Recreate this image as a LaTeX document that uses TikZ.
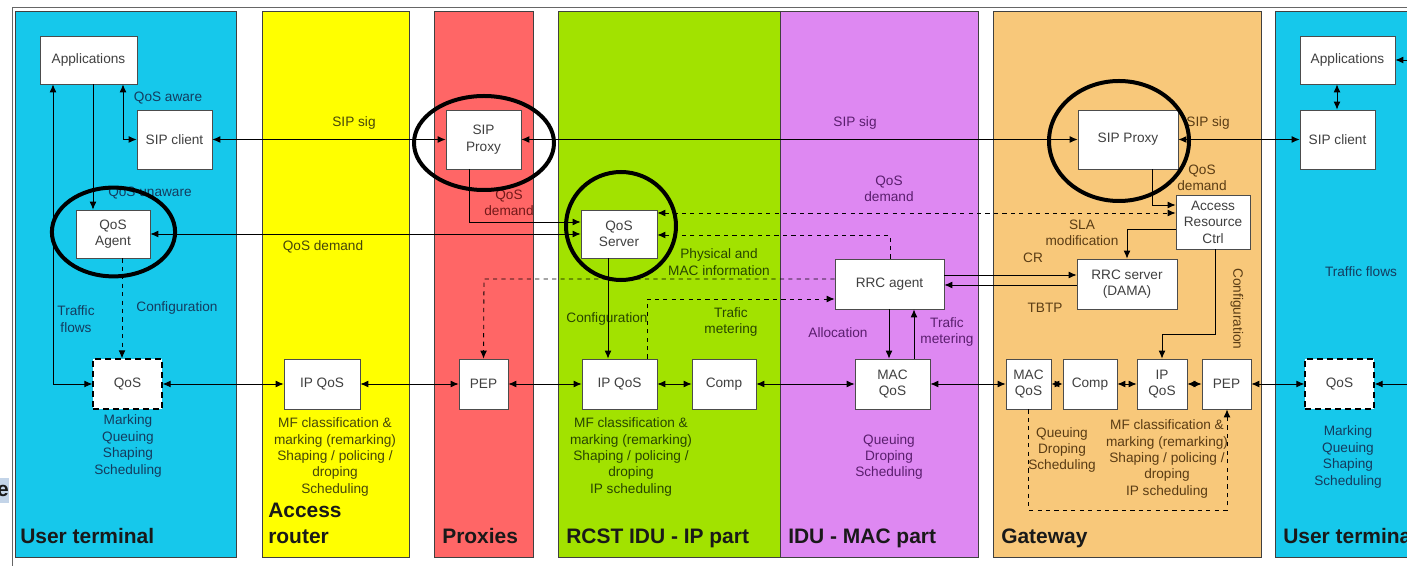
\documentclass[tikz,border=0pt]{standalone}
\usepackage{fontspec}
\setmainfont{Liberation Sans}
\usetikzlibrary{arrows.meta}

\definecolor{utbg}{RGB}{22,200,235}
\definecolor{arbg}{RGB}{255,255,0}
\definecolor{pxbg}{RGB}{255,102,102}
\definecolor{ipbg}{RGB}{162,226,0}
\definecolor{macbg}{RGB}{222,136,242}
\definecolor{gwbg}{RGB}{248,200,122}
\definecolor{uttxt}{RGB}{20,60,95}
\definecolor{artxt}{RGB}{70,70,10}
\definecolor{pxtxt}{RGB}{115,25,25}
\definecolor{iptxt}{RGB}{40,70,0}
\definecolor{mactxt}{RGB}{90,30,110}
\definecolor{gwtxt}{RGB}{90,60,20}
\definecolor{edgebox}{RGB}{195,212,232}

\newcommand{\lblfont}{\fontsize{9.7}{11.7}\selectfont}
\newcommand{\titlefont}{\fontsize{14.9}{17.7}\selectfont\bfseries}

\tikzset{
  panel/.style={draw=black!75, line width=0.6pt},
  box/.style={draw=black!70, fill=white, line width=0.5pt, text=black!75,
    font=\lblfont, align=center, inner sep=0pt},
  qbox/.style={box, draw=black, line width=0.9pt, dash pattern=on 1.5mm off 1mm},
  lbl/.style={font=\lblfont, align=center},
  title/.style={font=\titlefont, anchor=base west, inner sep=0pt, text=black!90, align=left},
  link/.style={line width=0.6pt, -{Latex[length=2mm,width=1.7mm]}},
  dlink/.style={line width=0.6pt, {Latex[length=2mm,width=1.7mm]}-{Latex[length=2mm,width=1.7mm]}},
  ring/.style={line width=1mm},
}

\begin{document}
\begin{tikzpicture}[x=0.25mm,y=-0.25mm]

\clip (0,0) rectangle (1407,566);
\fill[white] (0,0) rectangle (1407,566);

% Frame
\draw[black!60, line width=0.5pt] (12,566) -- (12,7) -- (1407,7);

% Panels
\draw[panel, fill=utbg] (15,11) rectangle (236,557);
\draw[panel, fill=arbg] (262,11) rectangle (409,557);
\draw[panel, fill=pxbg] (434,11) rectangle (533,557);
\draw[panel, fill=ipbg] (558,11) rectangle (780,557);
\draw[panel, fill=macbg] (780,11) rectangle (978,557);
\draw[panel, fill=gwbg] (993,11) rectangle (1261,557);
\draw[panel, fill=utbg] (1275,11) rectangle (1420,557);

% Cut-off box on the left edge
\begin{scope}
\clip (0,478) rectangle (9,503);
\fill[edgebox] (0,478) rectangle (9,503);
\node[font=\titlefont, text=black!90, anchor=east, inner sep=0pt] at (9,491) {e};
\end{scope}

% Titles
\node[title] at (20,544) {User terminal};
\node[title] at (268,518) {Access};
\node[title] at (268,544) {router};
\node[title] at (442,544) {Proxies};
\node[title] at (566,544) {RCST IDU - IP part};
\node[title] at (788,544) {IDU - MAC part};
\node[title] at (1001,544) {Gateway};
\node[title] at (1283,544) {User terminal};

% Boxes: user terminal (left)
\node[box, minimum width=24.25mm, minimum height=12mm] (appL) at (88.5,60) {Applications};
\node[box, minimum width=18.75mm, minimum height=14.75mm] (sipcL) at (174.5,139.5) {SIP client};
\node[box, minimum width=18.5mm, minimum height=12mm] (agent) at (113,234) {QoS\\Agent};
\node[qbox, minimum width=17.25mm, minimum height=12.5mm] (qosL) at (127.5,384) {QoS};

% Boxes: access router and proxies
\node[box, minimum width=19mm, minimum height=12.5mm] (ipqA) at (322,384) {IP QoS};
\node[box, minimum width=18.75mm, minimum height=14.75mm] (sipP) at (483.5,139.5) {SIP\\Proxy};
\node[box, minimum width=12.25mm, minimum height=12.5mm] (pep) at (483.5,384) {PEP};

% Boxes: RCST IDU
\node[box, minimum width=19mm, minimum height=12mm] (qsrv) at (619,234) {QoS\\Server};
\node[box, minimum width=18.75mm, minimum height=12.5mm] (ipqG) at (619.5,384) {IP QoS};
\node[box, minimum width=16mm, minimum height=12.5mm] (compG) at (724,384) {Comp};
\node[box, minimum width=27.25mm, minimum height=12.5mm] (rrca) at (889.5,284) {RRC agent};
\node[box, minimum width=18.75mm, minimum height=12.5mm] (macq) at (892.5,384) {MAC\\QoS};

% Boxes: gateway
\node[box, minimum width=25mm, minimum height=14.75mm] (sipG) at (1128,139.5) {SIP Proxy};
\node[box, minimum width=18.5mm, minimum height=13.5mm] (arc) at (1213,222) {Access\\Resource\\Ctrl};
\node[box, minimum width=25mm, minimum height=12.5mm] (rrcs) at (1127,284) {RRC server\\(DAMA)};
\node[box, minimum width=11.25mm, minimum height=12.5mm] (macW) at (1028.5,384) {MAC\\QoS};
\node[box, minimum width=13.5mm, minimum height=12.5mm] (compW) at (1090,384) {Comp};
\node[box, minimum width=12.5mm, minimum height=12.5mm] (ipqW) at (1162,384) {IP\\QoS};
\node[box, minimum width=12.25mm, minimum height=12.5mm] (pepW) at (1226.5,384) {PEP};

% Boxes: user terminal (right)
\node[box, minimum width=23.75mm, minimum height=12mm] (appR) at (1347.5,60) {Applications};
\node[box, minimum width=18.75mm, minimum height=14.75mm] (sipcR) at (1337.5,139.5) {SIP client};
\node[qbox, minimum width=17.25mm, minimum height=12.5mm] (qosR) at (1339.5,384) {QoS};
\coordinate (edgeA) at (1407,60);
\coordinate (edgeQ) at (1407,384);

% Labels
\node[lbl, text=uttxt] (tAware) at (168,98) {QoS aware};
\node[lbl, text=uttxt] (tUnaware) at (150,193) {QoS unaware};
\node[lbl, text=uttxt] (tFlowsL) at (76,319) {Traffic\\flows};
\node[lbl, text=uttxt] (tConfL) at (177,308) {Configuration};
\node[lbl, text=uttxt] (tQosL) at (128,446) {Marking\\Queuing\\Shaping\\Scheduling};
\node[lbl, text=artxt] (tSigA) at (354,123) {SIP sig};
\node[lbl, text=artxt] (tDemA) at (323,247) {QoS demand};
\node[lbl, text=artxt] (tIpA) at (335,457) {MF classification \&\\marking (remarking)\\Shaping / policing /\\droping\\Scheduling};
\node[lbl, text=pxtxt] (tDemP) at (509,203) {QoS\\demand};
\node[lbl, text=iptxt] (tPhy) at (719,262) {Physical and\\MAC information};
\node[lbl, text=iptxt] (tConfG) at (607,319) {Configuration};
\node[lbl, text=iptxt] (tMetG) at (731,322) {Trafic\\metering};
\node[lbl, text=iptxt] (tIpG) at (631,457) {MF classification \&\\marking (remarking)\\Shaping / policing /\\droping\\IP scheduling};
\node[lbl, text=mactxt] (tSigM) at (855,123) {SIP sig};
\node[lbl, text=mactxt] (tDemM) at (889,189) {QoS\\demand};
\node[lbl, text=mactxt] (tAlloc) at (838,333) {Allocation};
\node[lbl, text=mactxt] (tMetM) at (947,332) {Trafic\\metering};
\node[lbl, text=mactxt] (tMacM) at (889,457) {Queuing\\Droping\\Scheduling};
\node[lbl, text=gwtxt] (tSigW) at (1208,123) {SIP sig};
\node[lbl, text=gwtxt] (tDemW) at (1202,178) {QoS\\demand};
\node[lbl, text=gwtxt] (tSla) at (1082,233) {SLA\\modification};
\node[lbl, text=gwtxt] (tCr) at (1033,258) {CR};
\node[lbl, text=gwtxt] (tTbtp) at (1045,308) {TBTP};
\node[lbl, text=gwtxt, rotate=-90] (tConfW) at (1237,309) {Configuration};
\node[lbl, text=gwtxt] (tMacW) at (1062,450) {Queuing\\Droping\\Scheduling};
\node[lbl, text=gwtxt] (tIpW) at (1167,459) {MF classification \&\\marking (remarking)\\Shaping / policing /\\droping\\IP scheduling};
\node[lbl, text=uttxt] (tFlowsR) at (1361,272) {Traffic flows};
\node[lbl, text=uttxt] (tQosR) at (1348,457) {Marking\\Queuing\\Shaping\\Scheduling};

% Links: user terminal (left)
\draw[dlink] (appL.south -| 53,0) -- (53,384) -- (qosL.west);
\draw[link] (appL.south -| 93,0) -- (agent.north -| 93,0);
\draw[dlink] (appL.south -| 123,0) -- (123,139.5) -- (sipcL.west);
\draw[link, dashed] (agent.south -| 122,0) -- (qosL.north -| 122,0);

% Links: SIP signalling
\draw[dlink] (sipcL.east) -- (sipP.west);
\draw[dlink] (sipP.east) -- (sipG.west);
\draw[dlink] (sipG.east) -- (sipcR.west);
\draw[dlink] (appR.south -| 1337,0) -- (sipcR.north -| 1337,0);
\draw[link] (edgeA) -- (appR.east);

% Links: QoS demand and control
\draw[dlink] (agent.east) -- (agent.east -| qsrv.west);
\draw[link] (sipP.south -| 469,0) -- (469,222) -- (qsrv.west |- 0,222);
\draw[dlink, dashed] (qsrv.east |- 0,213) -- (arc.west |- 0,213);
\draw[link, dashed] (rrca.north -| 890,0) -- (890,235) -- (qsrv.east |- 0,235);
\draw[link, dashed] (rrca.west |- 0,279) -- (484,279) -- (pep.north);
\draw[link, dashed] (ipqG.north -| 647,0) -- (647,299) -- (rrca.west |- 0,299);
\draw[link] (qsrv.south -| 608,0) -- (ipqG.north -| 608,0);
\draw[link] (rrca.south -| 889,0) -- (macq.north -| 889,0);
\draw[link] (macq.north -| 914,0) -- (rrca.south -| 914,0);
\draw[link] (rrca.east |- 0,275) -- (rrcs.west |- 0,275);
\draw[link] (rrcs.west |- 0,285) -- (rrca.east |- 0,285);
\draw[link] (sipG.south -| 1152,0) -- (1152,205) -- (arc.west |- 0,205);
\draw[link] (arc.west |- 0,229) -- (1127,229) -- (rrcs.north -| 1127,0);
\draw[link] (arc.south -| 1215,0) -- (1215,334) -- (1162,334) -- (ipqW.north);

% Links: traffic path
\draw[dlink] (qosL.east) -- (ipqA.west);
\draw[dlink] (ipqA.east) -- (pep.west);
\draw[dlink] (pep.east) -- (ipqG.west);
\draw[dlink] (ipqG.east) -- (compG.west);
\draw[dlink] (compG.east) -- (macq.west);
\draw[dlink] (macq.east) -- (macW.west);
\draw[dlink] (macW.east) -- (compW.west);
\draw[dlink] (compW.east) -- (ipqW.west);
\draw[dlink] (ipqW.east) -- (pepW.west);
\draw[dlink] (pepW.east) -- (qosR.west);
\draw[link] (edgeQ) -- (qosR.east);
\draw[link, dashed] (macW.south) -- (1028.5,510) -- (1227,510) -- (pepW.south -| 1227,0);

% Rings
\draw[ring] (113.5,232) ellipse [x radius=15.4mm, y radius=11.1mm];
\draw[ring] (484,143) ellipse [x radius=17.5mm, y radius=11.75mm];
\draw[ring] (621,226) ellipse [x radius=13.75mm, y radius=13.5mm];
\draw[ring] (1119,141) ellipse [x radius=17.5mm, y radius=15mm];

\end{tikzpicture}
\end{document}
